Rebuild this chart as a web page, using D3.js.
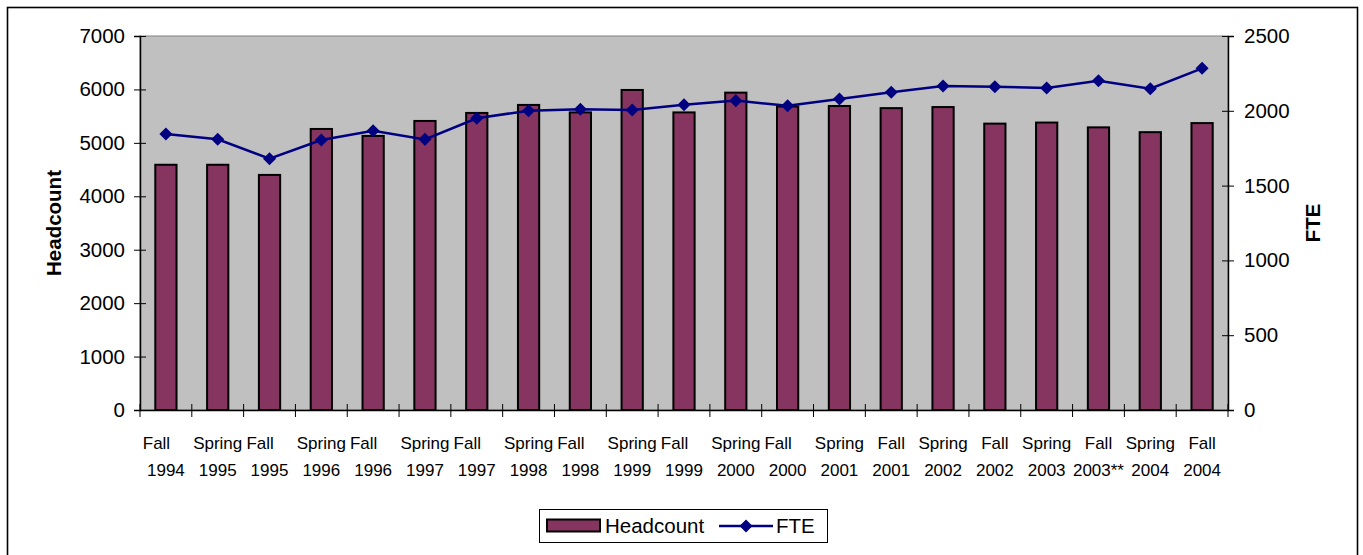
<!DOCTYPE html>
<html>
<head>
<meta charset="utf-8">
<script src="https://cdn.jsdelivr.net/npm/d3@7"></script>
<style>
  html, body { margin: 0; padding: 0; background: #fff; }
  svg text { font-family: "Liberation Sans", Arial, sans-serif; fill: #000; }
</style>
</head>
<body>
<svg id="chart" width="1363" height="555"></svg>
<script>
// Term labels (line breaks as in the source sheet; some first lines carry trailing spaces)
const terms = [
  "Fall    \n1994", "Spring\n1995", "Fall    \n1995", "Spring\n1996", "Fall    \n1996",
  "Spring\n1997", "Fall    \n1997", "Spring\n1998", "Fall    \n1998", "Spring\n1999",
  "Fall    \n1999", "Spring\n2000", "Fall    \n2000", "Spring\n2001", "Fall\n2001",
  "Spring\n2002", "Fall\n2002", "Spring\n2003", "Fall\n2003**", "Spring\n2004", "Fall\n2004"
];
const headcount = [
  4590, 4590, 4400, 5260, 5130, 5410, 5560, 5710, 5570, 5990,
  5570, 5940, 5680, 5690, 5650, 5670, 5360, 5380, 5290, 5200, 5370
];
const fte = [
  1845, 1810, 1680, 1805, 1867, 1809, 1950, 2001, 2010, 2005,
  2041, 2068, 2034, 2079, 2124, 2166, 2161, 2152, 2201, 2148, 2284
];
const leftTicks = [0, 1000, 2000, 3000, 4000, 5000, 6000, 7000];
const rightTicks = [0, 500, 1000, 1500, 2000, 2500];

const svg = d3.select("#chart");
const plot = { left: 140, right: 1228, top: 36, bottom: 410 };

// chart frame
svg.append("rect")
  .attr("x", 7.5).attr("y", 7.5)
  .attr("width", 1350).attr("height", 560)
  .attr("fill", "#fff").attr("stroke", "#000").attr("stroke-width", 1.6);

const x = d3.scaleBand().domain(d3.range(terms.length))
  .range([plot.left, plot.right]).padding(0);
const yL = d3.scaleLinear().domain([0, 7000]).range([plot.bottom, plot.top]);
const yR = d3.scaleLinear().domain([0, 2500]).range([plot.bottom, plot.top]);

// plot area
svg.append("rect")
  .attr("x", plot.left).attr("y", plot.top)
  .attr("width", plot.right - plot.left).attr("height", plot.bottom - plot.top)
  .attr("fill", "#C0C0C0").attr("stroke", "#808080").attr("stroke-width", 1);

// headcount bars
const barW = x.bandwidth() * 0.41;
svg.append("g").selectAll("rect").data(headcount).join("rect")
  .attr("x", (d, i) => x(i) + (x.bandwidth() - barW) / 2)
  .attr("y", d => yL(d))
  .attr("width", barW)
  .attr("height", d => yL(0) - yL(d))
  .attr("fill", "#85355F")
  .attr("stroke", "#000").attr("stroke-width", 2);

// FTE line with diamond markers
const cx = i => x(i) + x.bandwidth() / 2;
svg.append("path")
  .datum(fte)
  .attr("d", d3.line().x((d, i) => cx(i)).y(d => yR(d)))
  .attr("fill", "none").attr("stroke", "#000080").attr("stroke-width", 2.5);
const diamond = d3.symbol().type(d3.symbolSquare).size(85);
svg.append("g").selectAll("path").data(fte).join("path")
  .attr("d", diamond)
  .attr("transform", (d, i) => `translate(${cx(i)},${yR(d)}) rotate(45)`)
  .attr("fill", "#000080");

// left axis
const gL = svg.append("g").attr("transform", `translate(${plot.left},0)`)
  .call(d3.axisLeft(yL).tickValues(leftTicks).tickSize(6).tickPadding(9).tickFormat(d3.format("d")));
gL.select(".domain").attr("stroke", "#000").attr("stroke-width", 1.5);
gL.selectAll(".tick line").attr("x1", 6).attr("x2", -6).attr("stroke", "#000");
gL.selectAll(".tick text").attr("font-size", 20.5).attr("font-family", "Liberation Sans, Arial, sans-serif");

// right axis
const gR = svg.append("g").attr("transform", `translate(${plot.right},0)`)
  .call(d3.axisRight(yR).tickValues(rightTicks).tickSize(6).tickPadding(10).tickFormat(d3.format("d")));
gR.select(".domain").attr("stroke", "#000").attr("stroke-width", 1.5);
gR.selectAll(".tick line").attr("x1", -6).attr("x2", 6).attr("stroke", "#000");
gR.selectAll(".tick text").attr("font-size", 20.5).attr("font-family", "Liberation Sans, Arial, sans-serif");

// category axis
const gX = svg.append("g").attr("transform", `translate(0,${plot.bottom})`)
  .call(d3.axisBottom(x).tickValues([]).tickSize(0));
gX.select(".domain").attr("stroke", "#000").attr("stroke-width", 1.5);
const bounds = d3.range(terms.length + 1).map(i => i < terms.length ? x(i) : plot.right);
gX.selectAll("line.cat").data(bounds).join("line")
  .attr("class", "cat")
  .attr("x1", d => d).attr("x2", d => d)
  .attr("y1", -6).attr("y2", 7).attr("stroke", "#000");
const labels = gX.selectAll("text.cat").data(terms).join("text")
  .attr("class", "cat")
  .attr("text-anchor", "middle")
  .attr("font-size", 17);
labels.each(function (d, i) {
  const lines = d.split("\n");
  d3.select(this).selectAll("tspan").data(lines).join("tspan")
    .attr("x", cx(i))
    .attr("y", (l, j) => 39 + j * 27)
    .text(l => l.replace(/ /g, "\u00a0"));
});

// axis titles
svg.append("text")
  .attr("transform", `translate(61,${(plot.top + plot.bottom) / 2}) rotate(-90)`)
  .attr("text-anchor", "middle").attr("font-size", 20.5).attr("font-weight", "bold")
  .text("Headcount");
svg.append("text")
  .attr("transform", `translate(1320,${(plot.top + plot.bottom) / 2}) rotate(-90)`)
  .attr("text-anchor", "middle").attr("font-size", 20.5).attr("font-weight", "bold")
  .text("FTE");

// legend
const lg = svg.append("g");
lg.append("rect").attr("x", 539.5).attr("y", 509.5).attr("width", 288).attr("height", 33)
  .attr("fill", "#fff").attr("stroke", "#000").attr("stroke-width", 1);
lg.append("rect").attr("x", 547).attr("y", 519.5).attr("width", 53).attr("height", 12)
  .attr("fill", "#85355F").attr("stroke", "#000").attr("stroke-width", 2);
lg.append("text").attr("x", 605).attr("y", 533).attr("font-size", 20.5).text("Headcount");
lg.append("line").attr("x1", 719).attr("x2", 773).attr("y1", 526).attr("y2", 526)
  .attr("stroke", "#000080").attr("stroke-width", 2.5);
lg.append("path").attr("d", diamond)
  .attr("transform", "translate(746,526) rotate(45)").attr("fill", "#000080");
lg.append("text").attr("x", 776).attr("y", 533).attr("font-size", 20.5).text("FTE");
</script>
</body>
</html>
